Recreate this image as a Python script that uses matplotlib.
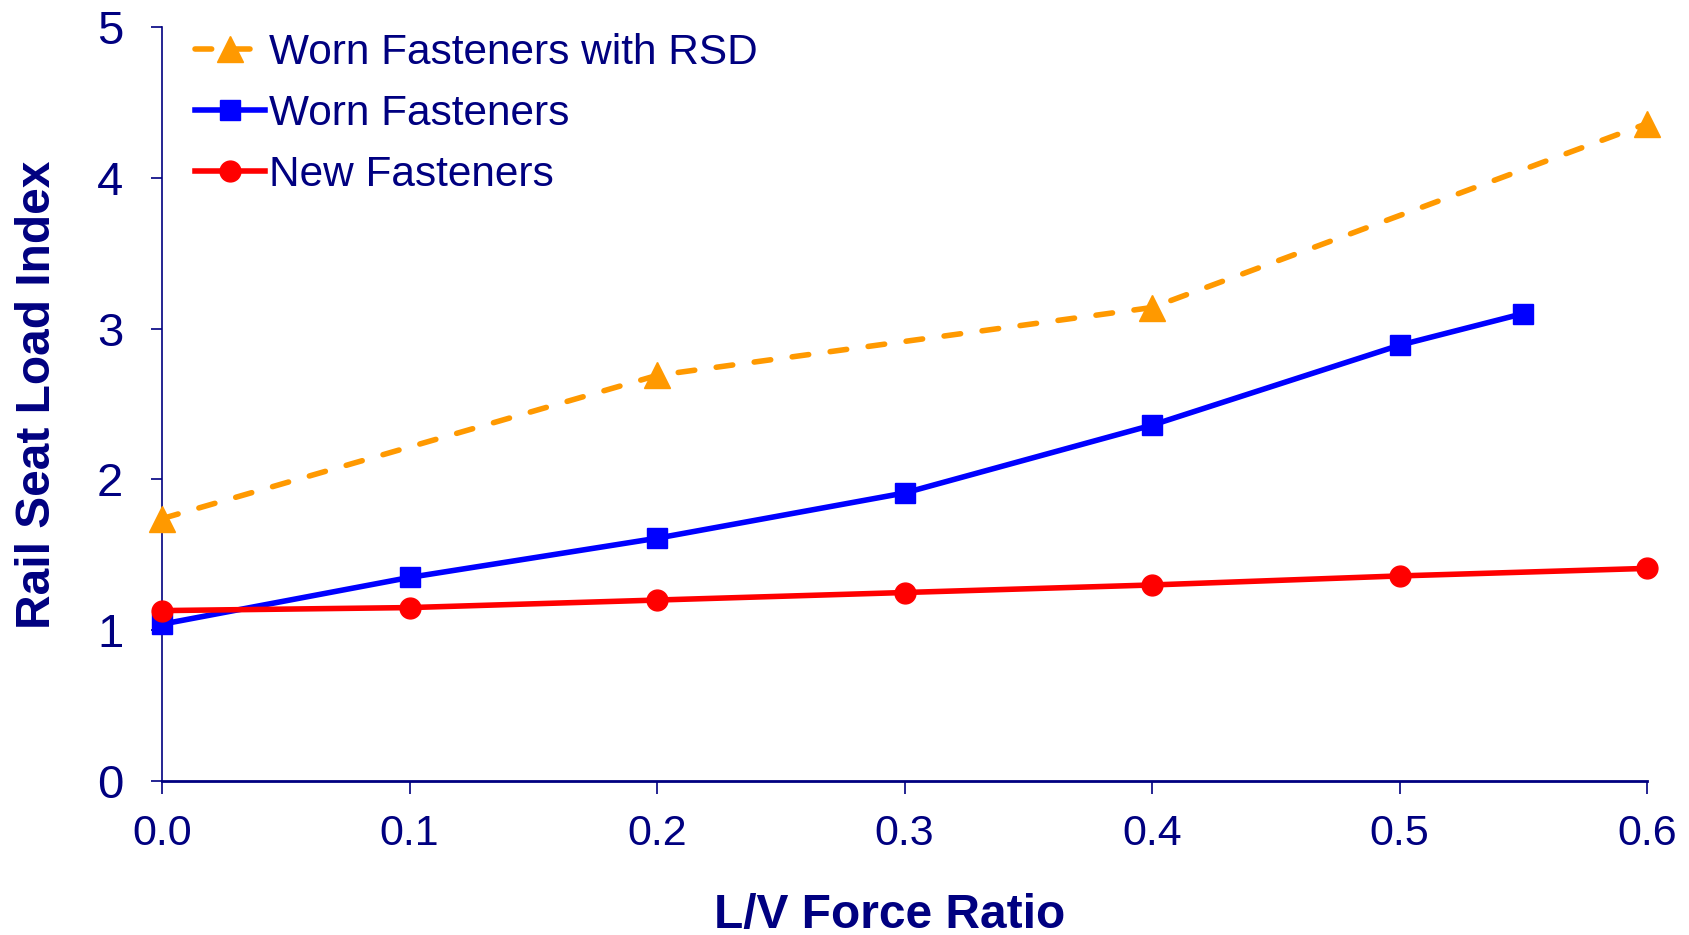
import matplotlib
matplotlib.use("Agg")
import matplotlib.pyplot as plt

# Data
lv_rsd = [0.0, 0.2, 0.4, 0.6]
worn_rsd = [1.74, 2.69, 3.14, 4.36]

lv_worn = [0.0, 0.1, 0.2, 0.3, 0.4, 0.5, 0.55]
worn = [1.04, 1.35, 1.61, 1.91, 2.36, 2.89, 3.10]

lv_new = [0.0, 0.1, 0.2, 0.3, 0.4, 0.5, 0.6]
new = [1.13, 1.15, 1.20, 1.25, 1.30, 1.36, 1.41]

x_ticks = [0.0, 0.1, 0.2, 0.3, 0.4, 0.5, 0.6]
y_ticks = [0, 1, 2, 3, 4, 5]

navy = "#000080"
plt.rcParams["font.family"] = ["Liberation Sans", "DejaVu Sans"]

fig = plt.figure(figsize=(16.9, 9.35), dpi=100)
ax = fig.add_axes([0.0959, 0.1647, 0.9746 - 0.0959, 0.9711 - 0.1647])

l1, = ax.plot(lv_rsd, worn_rsd, color="#FF9900", lw=4, ls=(0, (3.0, 3.9)),
              dash_capstyle="round", marker="^", ms=19, mec="#FF9900",
              label="Worn Fasteners with RSD", clip_on=False, zorder=3)
l2, = ax.plot(lv_worn, worn, color="#0000FF", lw=4, marker="s", ms=14.5,
              label="Worn Fasteners", clip_on=False, zorder=4)
l3, = ax.plot(lv_new, new, color="#FF0000", lw=4, marker="o", ms=15,
              label="New Fasteners", clip_on=False, zorder=5)

ax.set_xlim(0, 0.6)
ax.set_ylim(0, 5)
ax.set_xticks(x_ticks)
ax.set_xticklabels(["%.1f" % v for v in x_ticks])
ax.set_yticks(y_ticks)

for s in ["top", "right"]:
    ax.spines[s].set_visible(False)
ax.spines["left"].set_color(navy)
ax.spines["left"].set_linewidth(1.2)
ax.spines["bottom"].set_color(navy)
ax.spines["bottom"].set_linewidth(2)

ax.tick_params(axis="x", colors=navy, labelsize=31, length=9.5, width=1.2,
               pad=14, direction="out")
ax.tick_params(axis="y", colors=navy, labelsize=34, length=8, width=1.2,
               pad=20, direction="out")

ax.set_xlabel("L/V Force Ratio", fontsize=34.5, fontweight="bold", color=navy)
ax.xaxis.set_label_coords(0.49, -0.148)
ax.set_ylabel("Rail Seat Load Index", fontsize=34.5, fontweight="bold",
              color=navy)
ax.yaxis.set_label_coords(-0.069, 0.512)

leg = ax.legend(handles=[l1, l2, l3], loc="upper left", frameon=False,
                fontsize=30.5, handlelength=1.65, handletextpad=0.1,
                labelspacing=0.5, borderaxespad=0.0,
                bbox_to_anchor=(0.0105, 1.015))
for t in leg.get_texts():
    t.set_color(navy)

fig.savefig("out.png", dpi=100)
